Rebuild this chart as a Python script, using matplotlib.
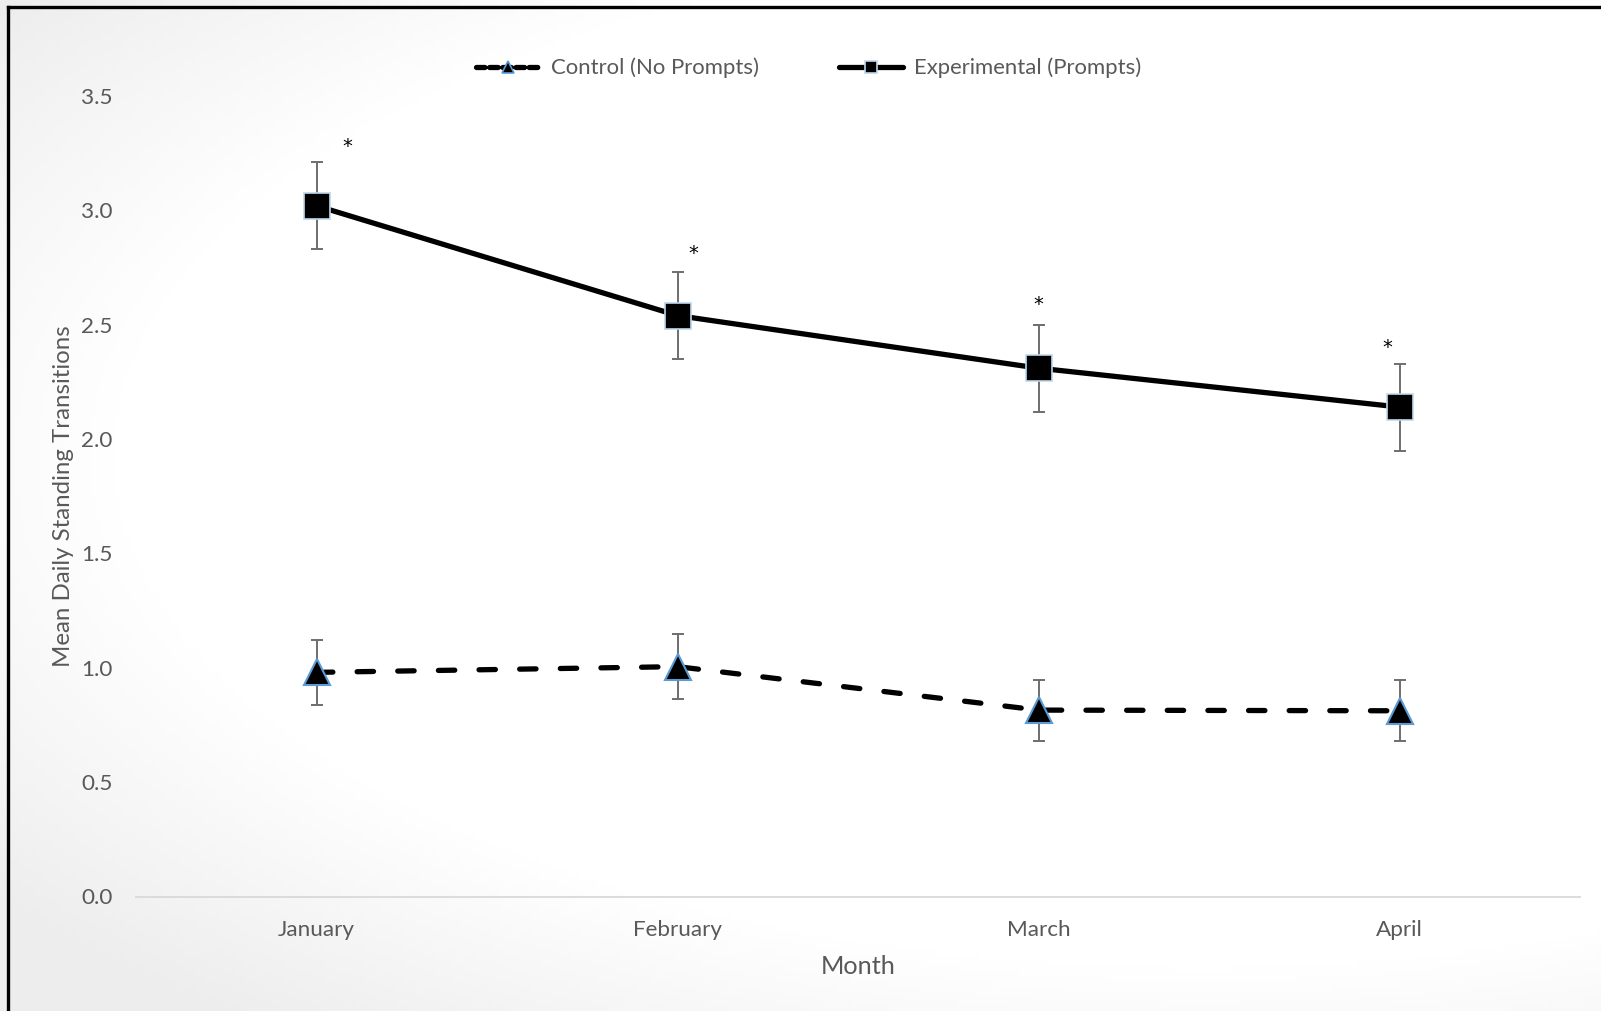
import numpy as np
import matplotlib
matplotlib.use("Agg")
import matplotlib.pyplot as plt
from matplotlib.lines import Line2D

months = ["January", "February", "March", "April"]
control = [0.98, 1.005, 0.815, 0.812]
control_err = [0.143, 0.143, 0.133, 0.133]
experimental = [3.02, 2.54, 2.31, 2.14]
experimental_err = [0.19, 0.19, 0.19, 0.19]
star_x_offset = [0.085, 0.045, 0.0, -0.034]
star_y = [3.28, 2.81, 2.59, 2.40]
yticks = [0.0, 0.5, 1.0, 1.5, 2.0, 2.5, 3.0, 3.5]

plt.rcParams['font.family'] = ['Lato', 'DejaVu Sans']
TXT = '#595959'

fig = plt.figure(figsize=(16.01, 10.11), dpi=100)

# subtle background gradient (darker toward left corners)
bg = fig.add_axes([0, 0, 1, 1], zorder=-10)
yy, xx = np.mgrid[0:1:200j, 0:1:320j]
r = np.sqrt(((xx - 0.75) / 0.8) ** 2 + ((yy - 0.55) / 0.6) ** 2)
g = 1.0 - 0.06 * np.clip(r - 0.85, 0, None) / 0.3
g = np.clip(g, 0.93, 1.0)
bg.imshow(np.dstack([g, g, g]), extent=[0, 1, 0, 1], aspect='auto', origin='lower')
bg.set_axis_off()

# border (top and left)
fig.add_artist(Line2D([0.005, 1.0], [1 - 7 / 1011, 1 - 7 / 1011], color='black', lw=2.4,
                      transform=fig.transFigure))
fig.add_artist(Line2D([8 / 1601, 8 / 1601], [0, 1 - 7 / 1011], color='black', lw=2.4,
                      transform=fig.transFigure))

ax = fig.add_axes([136 / 1601, 114.5 / 1011, (1580 - 136) / 1601, (896.5 - 96) / 1011])
ax.set_facecolor('none')
x = np.arange(len(months))

ax.errorbar(x, experimental, yerr=experimental_err, fmt='none', ecolor='#6e6e6e',
            elinewidth=1.4, capsize=4.3, capthick=1.4, zorder=2)
ax.errorbar(x, control, yerr=control_err, fmt='none', ecolor='#6e6e6e',
            elinewidth=1.4, capsize=4.3, capthick=1.4, zorder=2)

ax.plot(x, experimental, color='black', lw=3.8, solid_capstyle='round', zorder=3)
ax.plot(x, experimental, ls='none', marker='s', markersize=19, markerfacecolor='black',
        markeredgecolor='#bdd7ee', markeredgewidth=1.2, zorder=4)

ax.plot(x, control, color='black', lw=3.8, dashes=(3.1, 4.6), dash_capstyle='round', zorder=3)
ax.plot(x, control, ls='none', marker='^', markersize=19, markerfacecolor='black',
        markeredgecolor='#5b9bd5', markeredgewidth=1.5, zorder=4)

for xi, off, sy in zip(x, star_x_offset, star_y):
    ax.text(xi + off, sy, '*', ha='center', va='center', fontsize=14, color='black',
            family='DejaVu Sans')

ax.set_xlim(-0.5, 3.5)
ax.set_ylim(0, 3.5)
ax.set_yticks(yticks)
ax.set_yticklabels([f"{v:.1f}" for v in yticks])
ax.set_xticks(x)
ax.set_xticklabels(months)
for s in ['top', 'right', 'left']:
    ax.spines[s].set_visible(False)
ax.spines['bottom'].set_color('#d9d9d9')
ax.spines['bottom'].set_linewidth(1.3)
ax.tick_params(axis='both', length=0, labelsize=16.2, labelcolor=TXT)
ax.tick_params(axis='y', pad=17)
ax.tick_params(axis='x', pad=17)
ax.set_xlabel('Month', fontsize=18.2, color=TXT, labelpad=11)
ax.set_ylabel('Mean Daily Standing Transitions', fontsize=17.3, color=TXT, labelpad=5)

h_ctrl = Line2D([], [], color='black', lw=3.8, dashes=(1.6, 0.9), dash_capstyle='round',
                marker='^', markersize=9, markerfacecolor='black', markeredgecolor='#5b9bd5',
                markeredgewidth=1.2)
h_exp = Line2D([], [], color='black', lw=3.8, solid_capstyle='round',
               marker='s', markersize=9, markerfacecolor='black', markeredgecolor='#bdd7ee',
               markeredgewidth=1.2)
fig.legend([h_ctrl, h_exp], ['Control (No Prompts)', 'Experimental (Prompts)'],
           loc='center', bbox_to_anchor=(0.505, 1 - 68 / 1011), ncol=2, frameon=False,
           fontsize=15.9, handlelength=2.9, handletextpad=0.5, columnspacing=3.6,
           labelcolor=TXT)

fig.savefig('out.png', dpi=100)
